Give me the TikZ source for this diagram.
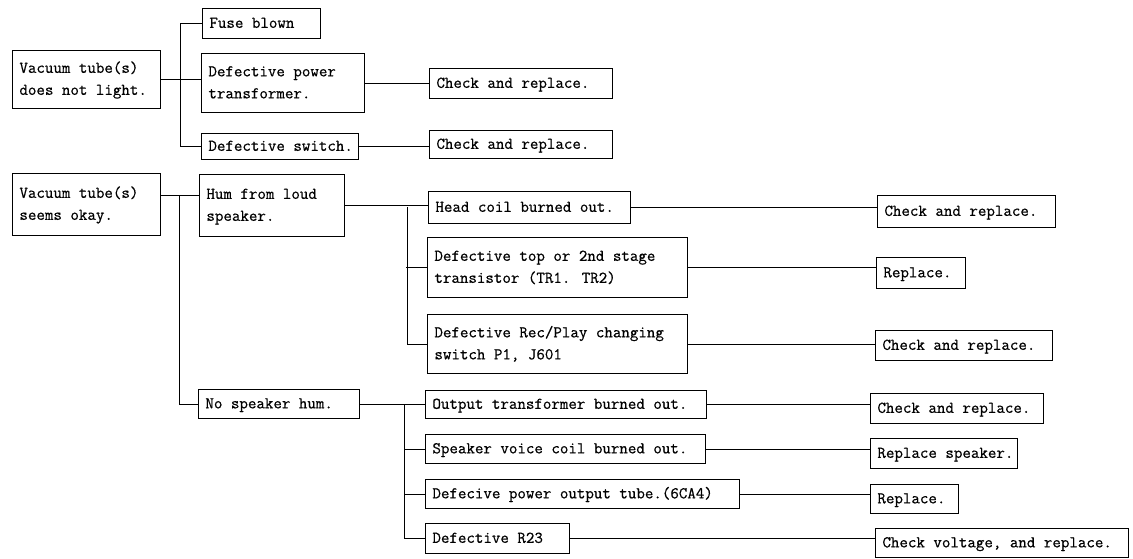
\documentclass[tikz,border=0pt]{standalone}
\usepackage{fontspec}
\newfontfamily\boxfont{Latin Modern Mono}[FakeBold=0.6]
\begin{document}
\begin{tikzpicture}[x=1pt,y=-1pt,
  box/.style={draw,line width=0.9pt,inner xsep=7pt,inner ysep=0pt,
    font=\boxfont\fontsize{16.5}{22}\selectfont,anchor=north west},
  link/.style={line width=0.9pt}]
\useasboundingbox (0,0) rectangle (1133,558);
% #1 name, #2 left, #3 top, #4 width, #5 height, #6 text
\newcommand\bx[6]{\pgfmathsetmacro\tw{#4-14}%
  \node[box,minimum width=#4pt,minimum height=#5pt] (#1) at (#2,#3)
    {\makebox[\tw pt][l]{\begin{tabular}{@{}l@{}}#6\end{tabular}}};}
% group 1
\bx{dnl}{12}{50}{148}{58}{Vacuum tube(s)\\does not light.}
\bx{fuse}{202}{8}{118}{30}{Fuse blown}
\bx{dpt}{201}{53}{163}{59}{Defective power\\transformer.}
\bx{dsw}{201}{133}{157}{26}{Defective switch.}
\bx{car1}{429}{68}{183}{30}{Check and replace.}
\bx{car2}{429}{130}{183}{28}{Check and replace.}
% group 2
\bx{ok}{12}{173}{148}{62}{Vacuum tube(s)\\seems okay.}
\bx{hum}{199}{174}{145}{62}{Hum from loud\\speaker.}
\bx{head}{428}{191}{202}{32}{Head coil burned out.}
\bx{tr}{427}{237}{260}{60}{Defective top or 2nd stage\\transistor (TR1. TR2)}
\bx{rp}{427}{314}{260}{59}{Defective Rec/Play changing\\switch P1, J601}
\bx{car3}{877}{195}{178}{32}{Check and replace.}
\bx{rep1}{876}{257}{89}{31}{Replace.}
\bx{car4}{875}{330}{177}{30}{Check and replace.}
% group 3
\bx{nsh}{198}{389}{161}{29}{No speaker hum.}
\bx{otb}{425}{390}{281}{28}{Output transformer burned out.}
\bx{svc}{425}{434}{280}{29}{Speaker voice coil burned out.}
\bx{dpo}{425}{479}{314}{29}{Defecive power output tube.(6CA4)}
\bx{r23}{425}{523}{144}{30}{Defective R23}
\bx{car5}{870}{393}{173}{30}{Check and replace.}
\bx{rsp}{870}{438}{147}{30}{Replace speaker.}
\bx{rep2}{870}{484}{88}{29}{Replace.}
\bx{cvr}{875}{528}{253}{29}{Check voltage, and replace.}
% connectors group 1
\draw[link] (dnl.east) -- (dnl.east -| dpt.west);
\draw[link] (fuse.west) -- ++(-22,0) |- (dsw.west);
\draw[link] (dpt.east) -- (dpt.east -| car1.west);
\draw[link] (dsw.east) -- (dsw.east -| car2.west);
% connectors group 2
\coordinate (okp) at ([yshift=9pt]ok.east);
\draw[link] (okp) -- (okp -| hum.west);
\draw[link] ([xshift=19pt]okp) |- (nsh.west);
\draw[link] (hum.east) -- (hum.east -| head.west);
\draw[link] ([xshift=-21pt]head.west) |- (rp.west);
\draw[link] (tr.west) -- ++(-21,0);
\draw[link] (head.east) -- (head.east -| car3.west);
\draw[link] (tr.east) -- (tr.east -| rep1.west);
\draw[link] (rp.east) -- (rp.east -| car4.west);
% connectors group 3
\draw[link] (nsh.east) -- (nsh.east -| otb.west);
\draw[link] ([xshift=-21pt]otb.west) |- (r23.west);
\draw[link] (svc.west) -- ++(-21,0);
\draw[link] (dpo.west) -- ++(-21,0);
\draw[link] (otb.east) -- (otb.east -| car5.west);
\draw[link] (svc.east) -- (svc.east -| rsp.west);
\draw[link] (dpo.east) -- (dpo.east -| rep2.west);
\draw[link] (r23.east) -- (r23.east -| cvr.west);
\end{tikzpicture}
\end{document}
